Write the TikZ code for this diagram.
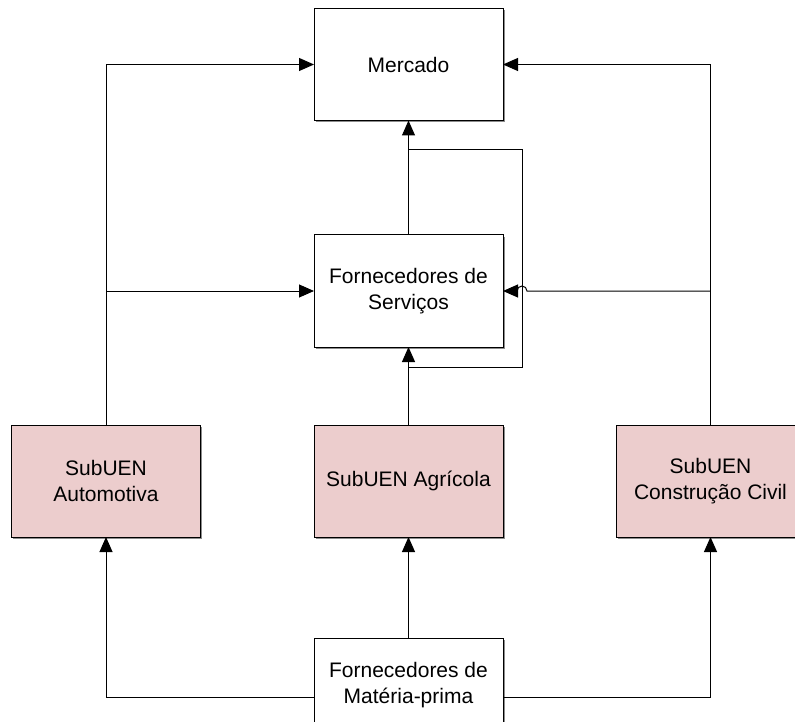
\documentclass[tikz,border=0pt]{standalone}
\usepackage{fontspec}
\setmainfont{Liberation Sans}
\usetikzlibrary{arrows.meta,shadows}
\definecolor{subfill}{RGB}{236,205,205}
\begin{document}
\begin{tikzpicture}[x=1pt,y=-1pt,
  box/.style={draw=black,line width=1pt,fill=white,minimum width=189pt,minimum height=112pt,
    inner sep=0pt,outer sep=0pt,align=center,font=\fontsize{21}{25.5}\selectfont,
    drop shadow={shadow xshift=1.5pt,shadow yshift=-1.5pt,fill=black!45,opacity=1}},
  subbox/.style={box,fill=subfill},
  link/.style={draw=black,line width=1pt},
  arr/.style={link,-{Triangle[length=15pt,width=13pt]}}]
\useasboundingbox (0,0) rectangle (795,722);
\clip (0,0) rectangle (795,722);
% boxes
\node[box] (merc) at (408.5,64.5) {Mercado};
\node[box] (serv) at (408.5,291) {Fornecedores de\\Serviços};
\node[subbox] (auto) at (106,481) {SubUEN\\Automotiva};
\node[subbox] (agri) at (408.5,481) {SubUEN Agrícola};
\node[subbox] (cons) at (710.5,481) {SubUEN\\Construção Civil};
\node[box,minimum height=94pt] (raw) at (408.5,685) {Fornecedores de\\Matéria-prima};
% helper points of the feedback loop
\coordinate (lr) at (522,367);
\coordinate (ur) at (522,150);
\coordinate (hop) at (522,291);
% left column
\draw[arr] (auto.north) |- (merc.west);
\draw[arr] (auto.north |- serv.west) -- (serv.west);
% right column
\draw[arr] (cons.north) |- (merc.east);
\draw[arr] (cons.north |- serv.east) -- ([xshift=5pt]hop)
  arc[start angle=0,end angle=180,radius=5pt] -- (serv.east);
% centre column and loop
\draw[arr] (agri.north) -- (serv.south);
\draw[link] (serv.north) -- (serv.north |- ur);
\draw[arr] (agri.north |- lr) -- (lr) -- (ur) -- (serv.north |- ur) -- (merc.south);
% raw material supply
\draw[arr] (raw.north) -- (agri.south);
\draw[arr] ([yshift=-12pt]raw.west) -| (auto.south);
\draw[arr] ([yshift=-12pt]raw.east) -| (cons.south);
\end{tikzpicture}
\end{document}
